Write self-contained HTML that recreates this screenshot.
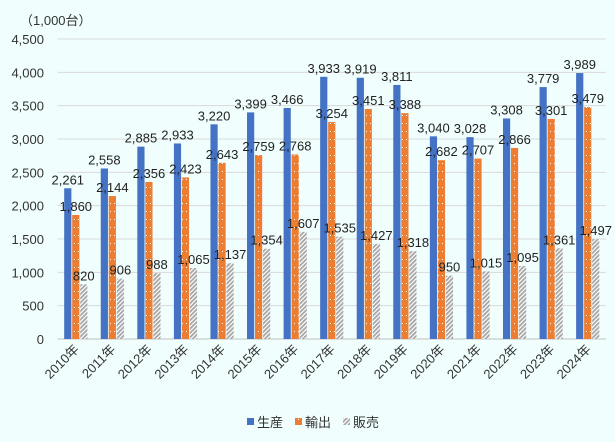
<!DOCTYPE html>
<html><head><meta charset="utf-8"><style>
body{margin:0;background:#f0fffe;}
svg{display:block;font-family:"Liberation Sans","Noto Sans CJK JP",sans-serif;}
</style></head><body>
<svg id="c" width="615" height="442">
<defs>
<pattern id="dots" width="4" height="8" patternUnits="userSpaceOnUse"><rect width="4" height="8" fill="#ed7d31"/><rect x="2" y="3" width="1" height="1" fill="#fff"/></pattern>
<pattern id="hatch" width="3" height="3" patternUnits="userSpaceOnUse" patternTransform="rotate(45)"><rect width="3" height="3" fill="#fff"/><rect width="1.8" height="3" fill="#a5a5a5"/></pattern>
</defs>
<text x="20" y="25" font-size="13" fill="#333">（1,000台）</text>
<g id="grid"></g><g id="bars"></g><g id="lbls"></g>
<g font-size="13" fill="#333">
<rect x="247" y="418" width="7" height="7" fill="#4472c4"/><text x="257" y="427">生産</text>
<rect x="295" y="418" width="7" height="7" fill="url(#dots)"/><text x="305" y="427">輸出</text>
<rect x="343" y="418" width="7" height="7" fill="url(#hatch)"/><text x="353" y="427">販売</text>
</g>
</svg>
<script>
const categories=["2010年","2011年","2012年","2013年","2014年","2015年","2016年","2017年","2018年","2019年","2020年","2021年","2022年","2023年","2024年"];
const production=[2261,2558,2885,2933,3220,3399,3466,3933,3919,3811,3040,3028,3308,3779,3989];
const exportsV=[1860,2144,2356,2423,2643,2759,2768,3254,3451,3388,2682,2707,2866,3301,3479];
const sales=[820,906,988,1065,1137,1354,1607,1535,1427,1318,950,1015,1095,1361,1497];
const yTicks=[0,500,1000,1500,2000,2500,3000,3500,4000,4500];
const NS="http://www.w3.org/2000/svg";
const x0=57.5,x1=606,yB=339,yT=39,yMax=4500;
const step=(x1-x0)/categories.length;
const y=v=>yB-(v/yMax)*(yB-yT);
const cx=i=>x0+step*(i+0.5);
function mk(t,a,p){const e=document.createElementNS(NS,t);for(const k in a)e.setAttribute(k,a[k]);p.appendChild(e);return e;}
const grid=document.getElementById('grid'),bars=document.getElementById('bars'),lbls=document.getElementById('lbls');
yTicks.forEach(v=>{
 const l=mk('line',{x1:x0,x2:x1,y1:y(v),y2:y(v),stroke:v===0?'#bfbfbf':'#d9d9d9','stroke-width':1},grid);
 
 
 const t=mk('text',{x:44,y:y(v)+5,'text-anchor':'end','font-size':13,fill:'#333'},grid);
 t.textContent=v.toLocaleString('en-US');
 
 
});
const series=[[production,'#4472c4','production'],[exportsV,'url(#dots)','export'],[sales,'url(#hatch)','sales']];
const bw=7.2;
categories.forEach((c,i)=>{
 series.forEach(([arr,fill,nm],s)=>{
  const bx=cx(i)+(s-1)*8-bw/2;
  const r=mk('rect',{x:bx,y:y(arr[i]),width:bw,height:yB-y(arr[i]),fill:fill},bars);
  
  
  const t=mk('text',{x:bx+bw/2,y:y(arr[i])-4,'text-anchor':'middle','font-size':13,fill:'#222'},lbls);
  t.textContent=arr[i].toLocaleString('en-US');
  
  
 });
 const t=mk('text',{x:cx(i)+4,y:350,'text-anchor':'end','font-size':13,fill:'#333',transform:`rotate(-45 ${cx(i)+4} 350)`},lbls);
 t.textContent=c;
 
 
});
</script>
</body></html>
